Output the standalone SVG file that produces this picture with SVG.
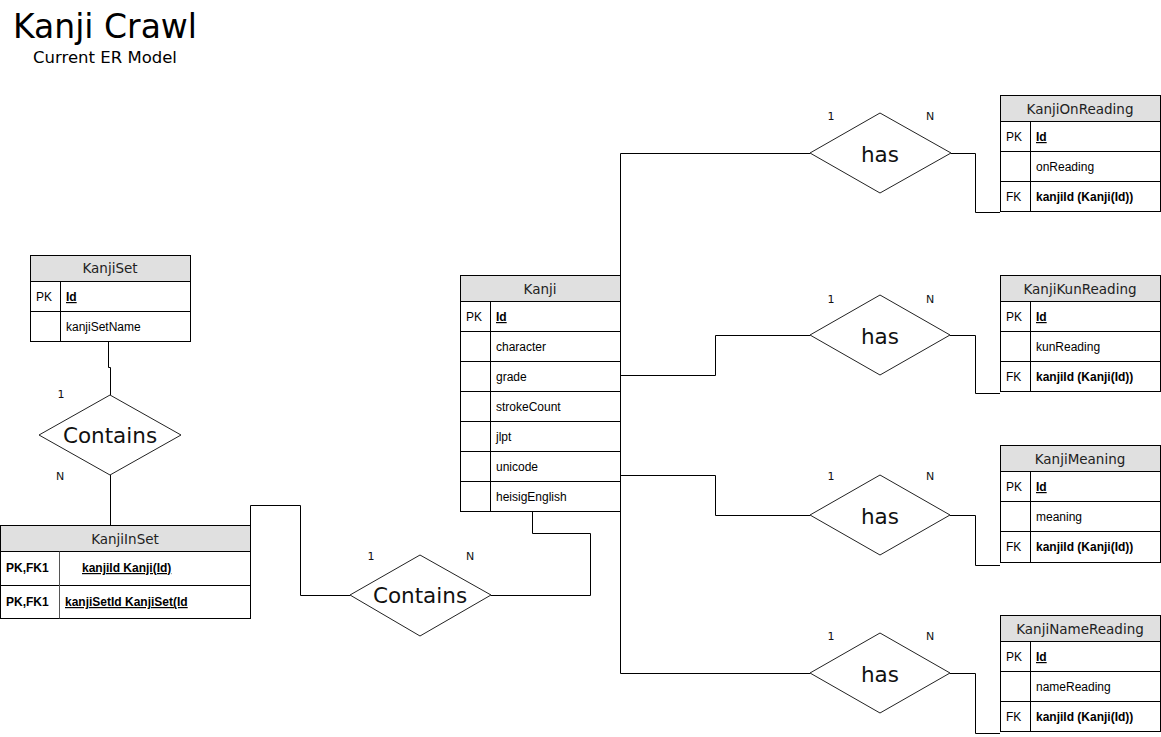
<svg xmlns="http://www.w3.org/2000/svg" width="1161" height="737" viewBox="0 0 1161 737">
<style>
.bg{fill:#fff}
.tbl{fill:#fff;stroke:#000;stroke-width:1}
.hdr{fill:#e0e0e0;stroke:#000;stroke-width:1}
.ln{stroke:#000;stroke-width:1;fill:none}
.dv{stroke:#555;stroke-width:1;fill:none}
.dia{fill:#fff;stroke:#222;stroke-width:1}
.conn{stroke:#000;stroke-width:1;fill:none}
.th{font-family:"DejaVu Sans",Verdana,sans-serif;font-size:13.5px;fill:#222;text-anchor:middle}
.f{font-family:"Liberation Sans",Arial,sans-serif;font-size:12px;fill:#000}
.b{font-weight:bold}
.u{text-decoration:underline}
.rel{font-family:"DejaVu Sans",Verdana,sans-serif;font-size:21.5px;fill:#111;text-anchor:middle}
.card{font-family:"DejaVu Sans",Verdana,sans-serif;font-size:11px;fill:#111;text-anchor:middle}
</style>
<rect class="bg" x="0" y="0" width="1161" height="737"/>
<g id="title">
<text x="13" y="38" font-family="DejaVu Sans, Verdana, sans-serif" font-size="33" fill="#000">Kanji Crawl</text>
<text x="105" y="63" font-family="DejaVu Sans, Verdana, sans-serif" font-size="16.5" fill="#000" text-anchor="middle">Current ER Model</text>
</g>
<g id="connectors">
<path class="conn" d="M108.5,341.5 V367.5 H110.5 V395"/>
<path class="conn" d="M110.5,475 V525"/>
<path class="conn" d="M250.5,525 V505.5 H300.5 V595.5 H350"/>
<path class="conn" d="M491,595.5 H590.5 V533.5 H532.5 V512"/>
<path class="conn" d="M620.5,275 V153.5 H810"/>
<path class="conn" d="M951,153.5 H975.5 V212.5 H1000"/>
<path class="conn" d="M620.5,375.5 H715.5 V335.5 H810"/>
<path class="conn" d="M950,335.5 H975.5 V393.5 H1000"/>
<path class="conn" d="M620.5,475.5 H715.5 V515.5 H810"/>
<path class="conn" d="M950,515.5 H975.5 V565.5 H1000"/>
<path class="conn" d="M620.5,512 V673.5 H810"/>
<path class="conn" d="M950,673.5 H975.5 V733.5 H1000"/>
</g>
<g id="KanjiSet">
<rect class="tbl" x="30.5" y="255.5" width="160" height="86"/>
<rect class="hdr" x="30.5" y="255.5" width="160" height="26"/>
<line class="ln" x1="30.5" y1="311.5" x2="190.5" y2="311.5"/>
<line class="ln" x1="60.5" y1="281.5" x2="60.5" y2="341.5"/>
<text class="th" x="110" y="273">KanjiSet</text>
<text class="f" x="36" y="301">PK</text>
<text class="f b u" x="66" y="301">Id</text>
<text class="f" x="66" y="331">kanjiSetName</text>
</g>
<g id="Contains1">
<polygon class="dia" points="110,395 181,435 110,475 39,435"/>
<text class="rel" x="110" y="443">Contains</text>
<text class="card" x="61" y="398">1</text>
<text class="card" x="60" y="480">N</text>
</g>
<g id="KanjiInSet">
<rect class="tbl" x="0.5" y="525.5" width="250" height="93"/>
<rect class="hdr" x="0.5" y="525.5" width="250" height="26"/>
<line class="ln" x1="0.5" y1="585.5" x2="250.5" y2="585.5"/>
<line class="dv" x1="59.5" y1="551.5" x2="59.5" y2="618.5"/>
<text class="th" x="125" y="544">KanjiInSet</text>
<text class="f b" x="6" y="572">PK,FK1</text>
<text class="f b u" x="82" y="572">kanjiId Kanji(Id)</text>
<text class="f b" x="6" y="606">PK,FK1</text>
<text class="f b u" x="65" y="606">kanjiSetId KanjiSet(Id</text>
</g>
<g id="Contains2">
<polygon class="dia" points="420,555 491,595 420,636 350,595"/>
<text class="rel" x="420" y="603">Contains</text>
<text class="card" x="371" y="560">1</text>
<text class="card" x="470" y="560">N</text>
</g>
<g id="Kanji">
<rect class="tbl" x="460.5" y="275.5" width="160" height="236"/>
<rect class="hdr" x="460.5" y="275.5" width="160" height="26"/>
<line class="ln" x1="460.5" y1="331.5" x2="620.5" y2="331.5"/>
<line class="ln" x1="460.5" y1="361.5" x2="620.5" y2="361.5"/>
<line class="ln" x1="460.5" y1="391.5" x2="620.5" y2="391.5"/>
<line class="ln" x1="460.5" y1="421.5" x2="620.5" y2="421.5"/>
<line class="ln" x1="460.5" y1="451.5" x2="620.5" y2="451.5"/>
<line class="ln" x1="460.5" y1="481.5" x2="620.5" y2="481.5"/>
<line class="ln" x1="490.5" y1="301.5" x2="490.5" y2="511.5"/>
<text class="th" x="540" y="294">Kanji</text>
<text class="f" x="466" y="321">PK</text>
<text class="f b u" x="496" y="321">Id</text>
<text class="f" x="496" y="351">character</text>
<text class="f" x="496" y="381">grade</text>
<text class="f" x="496" y="411">strokeCount</text>
<text class="f" x="496" y="441">jlpt</text>
<text class="f" x="496" y="471">unicode</text>
<text class="f" x="496" y="501">heisigEnglish</text>
</g>
<g id="has1">
<polygon class="dia" points="880,113 951,153 880,193 810,153"/>
<text class="rel" x="880" y="162">has</text>
<text class="card" x="831" y="120">1</text>
<text class="card" x="930" y="120">N</text>
</g>
<g id="has2">
<polygon class="dia" points="880,295 950,335 880,375 810,335"/>
<text class="rel" x="880" y="344">has</text>
<text class="card" x="831" y="303">1</text>
<text class="card" x="930" y="303">N</text>
</g>
<g id="has3">
<polygon class="dia" points="880,475 950,515 880,555 810,515"/>
<text class="rel" x="880" y="524">has</text>
<text class="card" x="831" y="480">1</text>
<text class="card" x="930" y="480">N</text>
</g>
<g id="has4">
<polygon class="dia" points="880,633 950,673 880,713 810,673"/>
<text class="rel" x="880" y="682">has</text>
<text class="card" x="831" y="640">1</text>
<text class="card" x="930" y="640">N</text>
</g>
<g id="KanjiOnReading">
<rect class="tbl" x="1000.5" y="95.5" width="160" height="116"/>
<rect class="hdr" x="1000.5" y="95.5" width="160" height="26"/>
<line class="ln" x1="1000.5" y1="151.5" x2="1160.5" y2="151.5"/>
<line class="ln" x1="1000.5" y1="181.5" x2="1160.5" y2="181.5"/>
<line class="ln" x1="1030.5" y1="121.5" x2="1030.5" y2="211.5"/>
<text class="th" x="1080" y="114">KanjiOnReading</text>
<text class="f" x="1006" y="141">PK</text>
<text class="f b u" x="1036" y="141">Id</text>
<text class="f" x="1036" y="171">onReading</text>
<text class="f" x="1006" y="201">FK</text>
<text class="f b" x="1036" y="201">kanjiId (Kanji(Id))</text>
</g>
<g id="KanjiKunReading">
<rect class="tbl" x="1000.5" y="275.5" width="160" height="116"/>
<rect class="hdr" x="1000.5" y="275.5" width="160" height="26"/>
<line class="ln" x1="1000.5" y1="331.5" x2="1160.5" y2="331.5"/>
<line class="ln" x1="1000.5" y1="361.5" x2="1160.5" y2="361.5"/>
<line class="ln" x1="1030.5" y1="301.5" x2="1030.5" y2="391.5"/>
<text class="th" x="1080" y="294">KanjiKunReading</text>
<text class="f" x="1006" y="321">PK</text>
<text class="f b u" x="1036" y="321">Id</text>
<text class="f" x="1036" y="351">kunReading</text>
<text class="f" x="1006" y="381">FK</text>
<text class="f b" x="1036" y="381">kanjiId (Kanji(Id))</text>
</g>
<g id="KanjiMeaning">
<rect class="tbl" x="1000.5" y="445.5" width="160" height="117"/>
<rect class="hdr" x="1000.5" y="445.5" width="160" height="26"/>
<line class="ln" x1="1000.5" y1="501.5" x2="1160.5" y2="501.5"/>
<line class="ln" x1="1000.5" y1="531.5" x2="1160.5" y2="531.5"/>
<line class="ln" x1="1030.5" y1="471.5" x2="1030.5" y2="562.5"/>
<text class="th" x="1080" y="464">KanjiMeaning</text>
<text class="f" x="1006" y="491">PK</text>
<text class="f b u" x="1036" y="491">Id</text>
<text class="f" x="1036" y="521">meaning</text>
<text class="f" x="1006" y="551">FK</text>
<text class="f b" x="1036" y="551">kanjiId (Kanji(Id))</text>
</g>
<g id="KanjiNameReading">
<rect class="tbl" x="1000.5" y="615.5" width="160" height="116"/>
<rect class="hdr" x="1000.5" y="615.5" width="160" height="26"/>
<line class="ln" x1="1000.5" y1="671.5" x2="1160.5" y2="671.5"/>
<line class="ln" x1="1000.5" y1="701.5" x2="1160.5" y2="701.5"/>
<line class="ln" x1="1030.5" y1="641.5" x2="1030.5" y2="731.5"/>
<text class="th" x="1080" y="634">KanjiNameReading</text>
<text class="f" x="1006" y="661">PK</text>
<text class="f b u" x="1036" y="661">Id</text>
<text class="f" x="1036" y="691">nameReading</text>
<text class="f" x="1006" y="721">FK</text>
<text class="f b" x="1036" y="721">kanjiId (Kanji(Id))</text>
</g>
</svg>
